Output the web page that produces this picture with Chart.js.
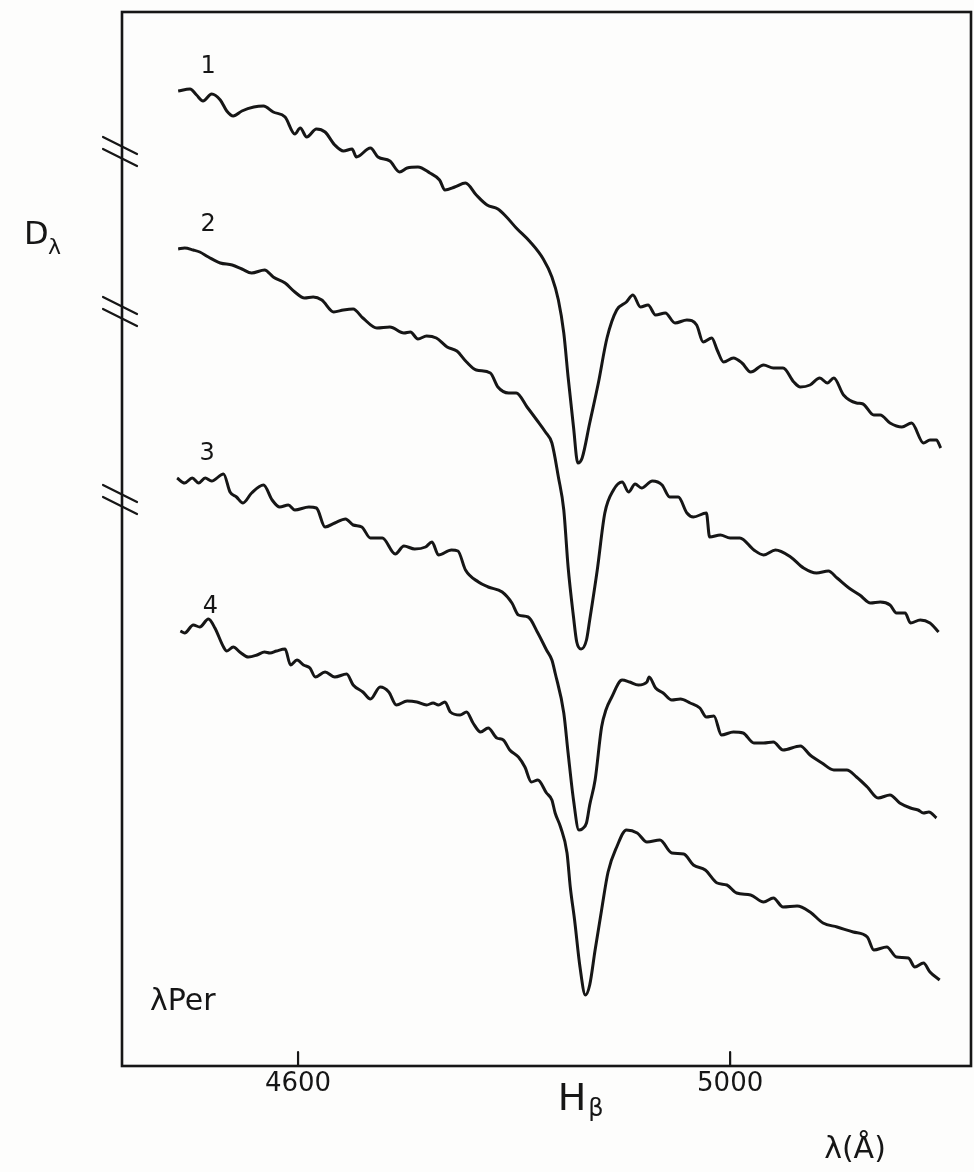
<!DOCTYPE html>
<html>
<head>
<meta charset="utf-8">
<script src="https://cdn.jsdelivr.net/npm/chart.js@4.4.1/dist/chart.umd.min.js"></script>
<style>
  html, body { margin: 0; padding: 0; background: #fdfdfc; }
  #wrap { width: 974px; height: 1172px; }
</style>
</head>
<body>
<div id="wrap"><canvas id="spectrumChart" width="974" height="1172"></canvas></div>
<script>
// wavelength (Å) and density readings for each trace
const lam1 = [4489,4500,4506,4512,4520,4528,4534,4540,4548,4559,4568,4577,4588,4597,4602,4608,4617,4625,4634,4642,4650,4654,4667,4674,4685,4694,4701,4711,4722,4731,4736,4745,4755,4765,4775,4785,4793,4802,4815,4827,4835,4841,4846,4850,4855,4859,4863,4870,4878,4886,4895,4904,4910,4917,4924,4931,4940,4949,4960,4969,4975,4983,4988,4994,5003,5011,5019,5031,5040,5049,5059,5065,5074,5083,5090,5096,5105,5117,5123,5133,5139,5148,5159,5168,5179,5185,5191,5195];
const dens1 = [9.87,9.89,9.83,9.77,9.84,9.78,9.67,9.62,9.67,9.71,9.72,9.66,9.61,9.44,9.50,9.41,9.49,9.46,9.33,9.27,9.29,9.21,9.30,9.21,9.17,9.06,9.10,9.11,9.05,8.98,8.88,8.91,8.95,8.83,8.73,8.69,8.61,8.50,8.36,8.19,8.01,7.78,7.45,7.01,6.51,6.15,6.20,6.55,6.95,7.40,7.68,7.76,7.83,7.71,7.73,7.63,7.65,7.55,7.58,7.53,7.36,7.40,7.28,7.16,7.20,7.15,7.06,7.13,7.10,7.10,6.96,6.91,6.93,7.00,6.95,7.00,6.83,6.75,6.74,6.63,6.63,6.55,6.51,6.55,6.35,6.38,6.38,6.30];

const lam2 = [4489,4495,4503,4509,4517,4528,4539,4548,4557,4569,4577,4588,4597,4606,4614,4622,4633,4642,4651,4660,4673,4685,4698,4704,4711,4719,4728,4738,4747,4756,4765,4778,4785,4795,4802,4812,4821,4829,4835,4841,4846,4850,4855,4858,4862,4867,4870,4877,4884,4892,4900,4906,4912,4918,4928,4937,4944,4952,4960,4966,4978,4981,4991,5000,5009,5022,5031,5042,5056,5068,5080,5091,5099,5110,5120,5130,5139,5148,5154,5162,5167,5176,5185,5193];
const dens2 = [8.29,8.30,8.28,8.26,8.21,8.15,8.13,8.09,8.05,8.08,8.01,7.95,7.86,7.80,7.81,7.78,7.66,7.68,7.69,7.60,7.50,7.51,7.45,7.46,7.39,7.42,7.40,7.31,7.27,7.16,7.08,7.05,6.91,6.85,6.85,6.71,6.58,6.46,6.35,6.01,5.68,5.11,4.61,4.36,4.29,4.38,4.58,5.08,5.65,5.88,5.96,5.86,5.94,5.90,5.97,5.93,5.81,5.81,5.65,5.61,5.65,5.41,5.43,5.40,5.40,5.28,5.23,5.28,5.21,5.10,5.05,5.07,5.00,4.90,4.83,4.75,4.76,4.73,4.65,4.65,4.55,4.58,4.55,4.46];

const lam3 = [4488,4495,4502,4508,4514,4520,4531,4537,4543,4549,4557,4568,4576,4583,4591,4597,4610,4617,4625,4634,4644,4651,4659,4667,4678,4690,4698,4708,4718,4724,4730,4742,4748,4755,4767,4776,4789,4798,4804,4813,4822,4830,4835,4838,4846,4850,4855,4860,4863,4867,4870,4875,4881,4885,4890,4900,4907,4915,4923,4925,4931,4938,4946,4954,4963,4972,4978,4985,4992,5003,5012,5022,5031,5040,5049,5065,5074,5085,5096,5108,5117,5127,5137,5148,5157,5167,5174,5179,5184,5191];
const dens3 = [6.00,5.95,6.00,5.95,6.00,5.97,6.04,5.86,5.81,5.75,5.85,5.93,5.78,5.71,5.73,5.68,5.71,5.70,5.51,5.55,5.59,5.53,5.51,5.40,5.40,5.24,5.32,5.29,5.31,5.36,5.23,5.28,5.27,5.08,4.96,4.91,4.86,4.75,4.63,4.61,4.45,4.28,4.18,4.05,3.65,3.25,2.78,2.48,2.49,2.55,2.73,2.98,3.51,3.68,3.80,3.98,3.96,3.93,3.96,4.01,3.90,3.85,3.78,3.79,3.75,3.70,3.61,3.62,3.43,3.46,3.45,3.35,3.35,3.36,3.28,3.32,3.23,3.15,3.08,3.08,3.01,2.91,2.80,2.83,2.75,2.70,2.68,2.65,2.66,2.60];

const lam4 = [4491,4495,4503,4509,4517,4523,4531,4534,4540,4546,4554,4562,4569,4574,4580,4588,4593,4599,4605,4611,4616,4625,4634,4645,4651,4660,4667,4676,4684,4691,4701,4710,4719,4725,4730,4736,4741,4750,4756,4762,4769,4776,4784,4790,4796,4804,4810,4816,4822,4830,4835,4838,4843,4849,4852,4856,4861,4866,4870,4875,4881,4887,4895,4904,4914,4923,4935,4946,4957,4966,4977,4988,4997,5006,5019,5031,5040,5049,5062,5074,5086,5099,5114,5127,5133,5145,5154,5165,5171,5179,5185,5194];
const dens4 = [4.47,4.45,4.53,4.51,4.59,4.50,4.31,4.27,4.31,4.26,4.21,4.23,4.26,4.25,4.27,4.29,4.13,4.18,4.13,4.10,4.01,4.06,4.01,4.04,3.93,3.86,3.79,3.91,3.86,3.73,3.77,3.76,3.73,3.75,3.73,3.76,3.66,3.63,3.66,3.55,3.46,3.50,3.40,3.38,3.28,3.21,3.11,2.96,2.98,2.85,2.78,2.65,2.51,2.25,1.91,1.58,1.11,0.83,0.93,1.28,1.68,2.06,2.31,2.48,2.45,2.36,2.38,2.25,2.24,2.13,2.08,1.95,1.93,1.85,1.83,1.76,1.80,1.71,1.72,1.66,1.55,1.51,1.46,1.41,1.28,1.31,1.21,1.20,1.11,1.15,1.06,0.98];

const traceNames = ['1', '2', '3', '4'];
const tickWl = [4600, 5000];
const hBeta = 4861;
const breakLevels = [9.26, 7.66, 5.78]; // "//" marks on the density axis

const ink = '#161616';

function toPoints(lam, dens) {
  return lam.map((l, i) => ({ x: l, y: dens[i] }));
}

const traces = [[lam1, dens1], [lam2, dens2], [lam3, dens3], [lam4, dens4]];

// frame, ticks, break marks and the hand labels
const decorPlugin = {
  id: 'decor',
  afterDraw(chart) {
    const { ctx, chartArea: a, scales: { x, y } } = chart;
    ctx.save();
    ctx.strokeStyle = ink;
    ctx.fillStyle = ink;
    ctx.lineCap = 'round';

    ctx.lineWidth = 2.6;
    ctx.strokeRect(a.left, a.top, a.right - a.left, a.bottom - a.top);

    ctx.lineWidth = 2.2;
    tickWl.forEach(w => {
      const px = x.getPixelForValue(w);
      ctx.beginPath();
      ctx.moveTo(px, a.bottom);
      ctx.lineTo(px, a.bottom - 14);
      ctx.stroke();
    });

    breakLevels.forEach(v => {
      const py = y.getPixelForValue(v);
      [-6, 6].forEach(off => {
        ctx.beginPath();
        ctx.moveTo(a.left - 19, py + off - 9);
        ctx.lineTo(a.left + 15, py + off + 8);
        ctx.stroke();
      });
    });

    ctx.textAlign = 'center';
    ctx.textBaseline = 'middle';
    ctx.font = '24px "DejaVu Sans"';
    chart.data.datasets.forEach((ds, i) => {
      const p = chart.getDatasetMeta(i).data[0];
      ctx.fillText(ds.label, p.x + 30, p.y - 24);
    });

    // D_lambda
    ctx.textAlign = 'left';
    ctx.font = '32px "DejaVu Sans"';
    ctx.fillText('D', 24, 236);
    ctx.font = '22px "DejaVu Sans"';
    ctx.fillText('λ', 48, 248);

    // star name
    ctx.font = '30px "DejaVu Sans"';
    ctx.fillText('λPer', 150, 1002);

    // H beta under the line centre
    const hx = x.getPixelForValue(hBeta);
    ctx.textAlign = 'center';
    ctx.font = '38px "DejaVu Sans"';
    ctx.fillText('H', hx - 8, 1100);
    ctx.font = '24px "DejaVu Sans"';
    ctx.fillText('β', hx + 16, 1110);

    ctx.font = '30px "DejaVu Sans"';
    ctx.fillText('λ(Å)', 855, 1150);
    ctx.restore();
  }
};

new Chart(document.getElementById('spectrumChart'), {
  type: 'line',
  data: {
    datasets: traces.map(([l, d], i) => ({
      label: traceNames[i],
      data: toPoints(l, d),
      borderColor: ink,
      borderWidth: 3,
      pointRadius: 0,
      fill: false,
      cubicInterpolationMode: 'monotone'
    }))
  },
  options: {
    responsive: false,
    animation: false,
    devicePixelRatio: 1,
    layout: { padding: { left: 122, top: 12, right: 3, bottom: 0 } },
    scales: {
      x: {
        type: 'linear',
        min: 4437,
        max: 5223,
        afterBuildTicks: s => { s.ticks = tickWl.map(v => ({ value: v })); },
        afterFit: s => { s.height = 106; },
        grid: { display: false, drawTicks: false },
        border: { display: false },
        ticks: {
          padding: 3,
          color: ink,
          font: { family: 'DejaVu Sans', size: 26 },
          callback: v => String(v)
        }
      },
      y: { display: false, min: 0.12, max: 10.66 }
    },
    plugins: {
      legend: { display: false },
      tooltip: { enabled: false }
    }
  },
  plugins: [decorPlugin]
});
</script>
</body>
</html>
